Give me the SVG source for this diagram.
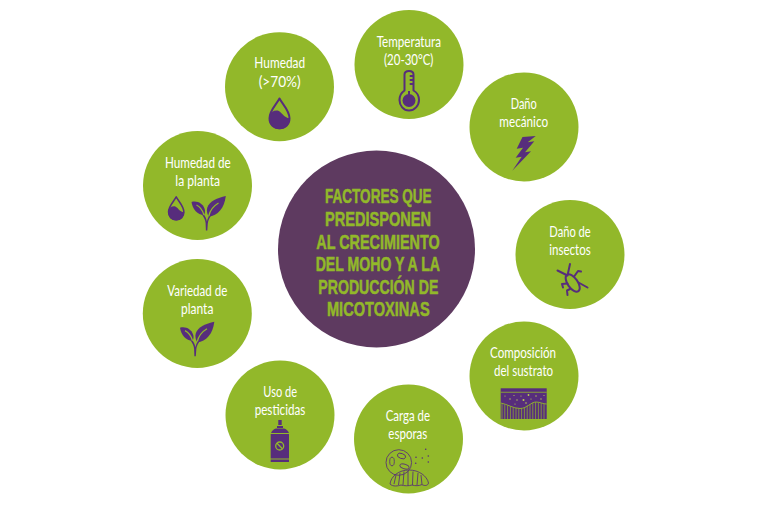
<svg xmlns="http://www.w3.org/2000/svg" width="768" height="512" viewBox="0 0 768 512">
<style>
.c{fill:#92b82a}
.t{font-family:"Lato","Open Sans",sans-serif;font-size:15px;fill:#fff;text-anchor:middle}
.h{font-family:"Liberation Sans",sans-serif;font-size:19.5px;font-weight:700;fill:#92b82a;stroke:#92b82a;stroke-width:.55;text-anchor:middle}
.p{fill:#572d7c}
.s{fill:none;stroke:#572d7c;stroke-width:2;stroke-linecap:round;stroke-linejoin:round}
.n{fill:none;stroke:#5a3572;stroke-width:.9}
</style>
<defs>
<symbol id="drop" viewBox="0 0 22 32" overflow="visible">
<path class="s" d="M11 1.2C8 7 1 13 1 21C1 27 5 31 11 31C17 31 21 27 21 21C21 13 14 7 11 1.2Z"/>
<path class="p" d="M.6 19C2 15 5 13 9 13.300C13 14 15 21 21.500 21C21.500 27 17 32 11 32C5 32 .5 27 .5 21Z"/>
</symbol>
<symbol id="plant" viewBox="0 0 34.500 35" overflow="visible">
<path class="p" d="M34.300 0C26 2 18 5 15.800 11.500C14.800 15 15.800 18.500 17.300 20.500C26 20 33 12 34.300 0Z"/>
<path class="p" d="M0 6C6 4.500 11 7.500 13 12.500C14 15 13.500 17.500 12.500 19C6 19 1 13 0 6Z"/>
<path class="p" d="M14.400 34.500L14.100 27C13.800 24 12.500 21.500 10.500 18.500L12 18C14 20.500 15 23 15.400 25.500C16 22.500 17.500 19.500 19 18L20.500 18.500C18 21.500 16.600 24.500 16.300 27.500L15.800 34.500Z"/>
<path fill="none" stroke="#92b82a" stroke-width="1.300" d="M27 7C22 10 18.500 14 17.300 20"/>
<path fill="none" stroke="#92b82a" stroke-width="1.300" d="M5 9C8 10.500 11 14 12.500 19"/>
</symbol>
</defs>
<g id="connectors"/>
<g id="centro">
<circle cx="376.500" cy="249" r="98.500" fill="#5e3a60"/>
<text class="h" x="378.300" y="203.300" textLength="106.700" lengthAdjust="spacingAndGlyphs">FACTORES QUE</text>
<text class="h" x="378" y="226" textLength="106" lengthAdjust="spacingAndGlyphs">PREDISPONEN</text>
<text class="h" x="378" y="248.700" textLength="123.400" lengthAdjust="spacingAndGlyphs">AL CRECIMIENTO</text>
<text class="h" x="377.800" y="271" textLength="124.300" lengthAdjust="spacingAndGlyphs">DEL MOHO Y A LA</text>
<text class="h" x="378.300" y="293.700" textLength="120" lengthAdjust="spacingAndGlyphs">PRODUCCIÓN DE</text>
<text class="h" x="378.300" y="316" textLength="102.700" lengthAdjust="spacingAndGlyphs">MICOTOXINAS</text>
</g>
<g id="humedad">
<circle class="c" cx="279.500" cy="86.700" r="54.500"/>
<text class="t" x="279.700" y="68.300" textLength="50.700" lengthAdjust="spacingAndGlyphs">Humedad</text>
<text class="t" x="279.700" y="86.700" textLength="42" lengthAdjust="spacingAndGlyphs">(&gt;70%)</text>
<use href="#drop" x="268.500" y="97.300" width="22" height="32"/>
</g>
<g id="temperatura">
<circle class="c" cx="409" cy="64.500" r="54.500"/>
<text class="t" x="408.800" y="46.700" textLength="64.300" lengthAdjust="spacingAndGlyphs">Temperatura</text>
<text class="t" x="408.700" y="64.700" textLength="49.300" lengthAdjust="spacingAndGlyphs">(20-30°C)</text>
<path class="s" d="M404.500 90.500V74.500C404.500 72 406.500 71 409 71C411.500 71 413.500 72 413.500 74.500V90.500C417 92.500 419 96 419 100C419 105.500 414.500 110.500 409 110.500C403.500 110.500 399.500 105.500 399.500 100C399.500 96 401.500 92.500 404.500 90.500Z"/>
<circle class="p" cx="409" cy="100.500" r="6.500"/>
<rect class="p" x="408" y="91" width="2" height="6"/>
<path class="s" stroke-width="1.400" d="M410.500 76H413M410.500 80H413M410.500 84H413"/>
</g>
<g id="dano-mecanico">
<circle class="c" cx="524" cy="127" r="54.500"/>
<text class="t" x="523.700" y="109.300" textLength="26" lengthAdjust="spacingAndGlyphs">Daño</text>
<text class="t" x="523.700" y="127.300" textLength="48.700" lengthAdjust="spacingAndGlyphs">mecánico</text>
<polygon class="p" points="535.700,136 522.500,137 516.700,148.800 523,147.800 515.700,157.700 521.700,156.800 512.300,170.700 531,151.200 525,152.200 534.300,141.200 527.700,142.200"/>
</g>
<g id="dano-insectos">
<circle class="c" cx="570" cy="254.500" r="54.500"/>
<text class="t" x="570" y="236.700" textLength="41.400" lengthAdjust="spacingAndGlyphs">Daño de</text>
<text class="t" x="570" y="255" textLength="41.400" lengthAdjust="spacingAndGlyphs">insectos</text>
<ellipse cx="572.700" cy="283" rx="5" ry="10" transform="rotate(-35 572.700 283)" fill="none" stroke="#572d7c" stroke-width="2"/>
<path class="s" d="M567.500 275.500L557.500 270.500M567.500 275.500L570 264M574.500 276L578 271L581 271.500M567.500 283.500L562 284L563 287.500M578.500 282.500L587.500 287.500M570 289L567 290.500L567.500 295"/>
</g>
<g id="composicion">
<circle class="c" cx="524" cy="376" r="54.500"/>
<text class="t" x="523" y="357.700" textLength="66" lengthAdjust="spacingAndGlyphs">Composición</text>
<text class="t" x="523.500" y="376" textLength="59" lengthAdjust="spacingAndGlyphs">del sustrato</text>
<rect class="p" x="500.700" y="388.300" width="46" height="30.700"/>
<rect x="500.700" y="391.800" width="46" height=".8" fill="#92b82a"/>
<path fill="none" stroke="#92b82a" stroke-width=".9" d="M500.700 403C507 404 513 408.500 520 408.500C527 408.500 531 402 536 402C540 402 543 404 546.700 404"/>
<path fill="none" stroke="#92b82a" stroke-width=".7" d="M502 419V404M504.800 419V404.500M507.600 419V405.500M510.400 419V406.500M513.200 419V407.500M516 419V408M518.800 419V408.500M521.600 419V408.500M524.400 419V407.500M527.200 419V405.500M530 419V404M532.800 419V402.500M535.600 419V402M538.400 419V402.500M541.200 419V403M544 419V404"/>
<g fill="#b9cf55"><circle cx="505" cy="396" r=".6"/><circle cx="510" cy="399" r=".7"/><circle cx="514" cy="395.500" r=".6"/><circle cx="517" cy="400" r=".7"/><circle cx="521" cy="396" r=".6"/><circle cx="523.500" cy="400" r="1"/><circle cx="528.500" cy="395" r=".9"/><circle cx="531" cy="399" r=".6"/><circle cx="536" cy="396" r=".7"/><circle cx="541" cy="399" r=".7"/><circle cx="544" cy="395.500" r=".6"/><circle cx="526" cy="403" r=".8"/><circle cx="515" cy="404" r=".6"/></g>
</g>
<g id="carga-esporas">
<circle class="c" cx="408.500" cy="439" r="54.500"/>
<text class="t" x="407.800" y="421" textLength="44.300" lengthAdjust="spacingAndGlyphs">Carga de</text>
<text class="t" x="407.800" y="439" textLength="39" lengthAdjust="spacingAndGlyphs">esporas</text>
<circle class="n" cx="398.800" cy="462.500" r="12.800"/>
<ellipse class="n" cx="401.500" cy="456" rx="4.300" ry="2.500" transform="rotate(20 401.500 456)"/>
<ellipse class="n" cx="392" cy="461.500" rx="2.300" ry="4.300"/>
<ellipse class="n" cx="404.500" cy="466.500" rx="4.800" ry="2.300" transform="rotate(15 404.500 466.500)"/>
<path class="n" d="M390 484C391 476 399 470 409 470C419 470 427 476 428.500 483C428 486 424 486 422 484.500C419 486 415 486 412 485C409 486 404 486 401 485C398 486 393 487 390 484Z"/>
<path class="n" d="M394 484L396 475M398.500 485L400 473M403 485L404 471.500M408 485.500V471M412.500 485L413 471.500M417 485L418 473M422 484.500L421 475"/>
<g class="p"><circle cx="425.700" cy="449.300" r=".8"/><circle cx="416" cy="457.300" r=".8"/><circle cx="422.300" cy="458" r=".8"/><circle cx="428.300" cy="456" r=".8"/><circle cx="415.700" cy="463.300" r=".8"/><circle cx="428.300" cy="462" r=".8"/></g>
</g>
<g id="uso-pesticidas">
<circle class="c" cx="280" cy="415" r="54.500"/>
<text class="t" x="280.200" y="396.700" textLength="33.700" lengthAdjust="spacingAndGlyphs">Uso de</text>
<text class="t" x="280" y="415.300" textLength="50.600" lengthAdjust="spacingAndGlyphs">pesticidas</text>
<path class="p" d="M278.300 420H281.700V425H278.300ZM277 426H283V428H277ZM276 428.500H284C286 429 288 430.500 289 433H271C272 430.500 274 429 276 428.500ZM270.700 434H289V458.500H270.700ZM270.700 459.500H289V462H270.700Z"/>
<circle cx="279.700" cy="446" r="4" fill="none" stroke="#92b82a" stroke-width="1.300"/>
<path d="M276.800 443L282.600 449" stroke="#92b82a" stroke-width="1.300"/>
</g>
<g id="variedad-planta">
<circle class="c" cx="197.300" cy="313.500" r="54.500"/>
<text class="t" x="197.300" y="295.700" textLength="60" lengthAdjust="spacingAndGlyphs">Variedad de</text>
<text class="t" x="197.200" y="314" textLength="32.300" lengthAdjust="spacingAndGlyphs">planta</text>
<use href="#plant" x="180" y="321.700" width="34.500" height="35"/>
</g>
<g id="humedad-planta">
<circle class="c" cx="197.500" cy="185.500" r="54.500"/>
<text class="t" x="197.800" y="168.300" textLength="65.700" lengthAdjust="spacingAndGlyphs">Humedad de</text>
<text class="t" x="197.700" y="186" textLength="44.700" lengthAdjust="spacingAndGlyphs">la planta</text>
<use href="#drop" x="167.700" y="196" width="17" height="24.500"/>
<use href="#plant" x="191.500" y="196" width="34.500" height="35"/>
</g>
</svg>
